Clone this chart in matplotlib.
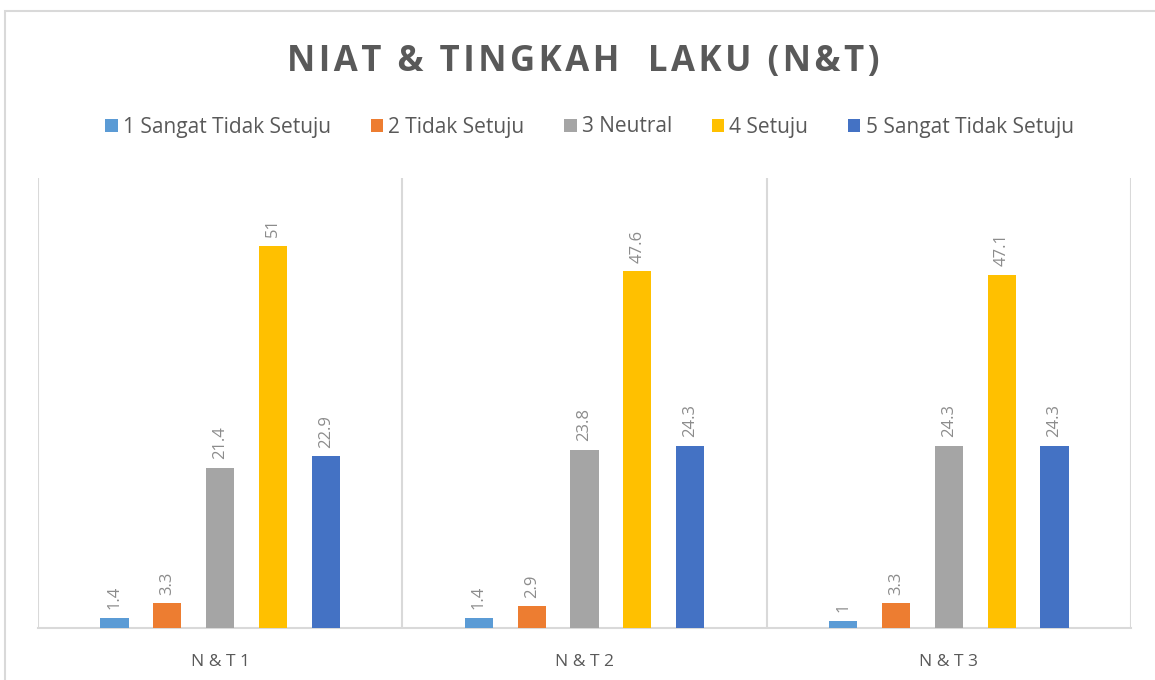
import matplotlib.pyplot as plt
import matplotlib.patches as patches
import numpy as np

# Data
categories = ['N & T 1', 'N & T 2', 'N & T 3']
series_names = ['1 Sangat Tidak Setuju', '2 Tidak Setuju', '3 Neutral',
                '4 Setuju', '5 Sangat Tidak Setuju']
values = [
    [1.4, 1.4, 1.0],
    [3.3, 2.9, 3.3],
    [21.4, 23.8, 24.3],
    [51, 47.6, 47.1],
    [22.9, 24.3, 24.3],
]
labels = [
    ['1.4', '1.4', '1'],
    ['3.3', '2.9', '3.3'],
    ['21.4', '23.8', '24.3'],
    ['51', '47.6', '47.1'],
    ['22.9', '24.3', '24.3'],
]
colors = ['#5B9BD5', '#ED7D31', '#A5A5A5', '#FFC000', '#4472C4']
title = 'NIAT & TINGKAH  LAKU (N&T)'

plt.rcParams['font.family'] = ['Open Sans', 'DejaVu Sans']

fig = plt.figure(figsize=(11.55, 6.8), dpi=100)
ax = fig.add_axes([38 / 1155, 52 / 680, (1131 - 38) / 1155, (628 - 178) / 680])

# outer chart border (partially cropped in the reference)
fig.patches.append(patches.Rectangle((5 / 1155, -0.1), 1.2, 1 - 11 / 680 + 0.1,
                                     transform=fig.transFigure, fill=False,
                                     edgecolor='#d9d9d9', linewidth=1.5))

x = np.arange(len(categories))
step = 0.145
width = 0.077
for i, (name, vals, labs, c) in enumerate(zip(series_names, values, labels, colors)):
    pos = x + (i - 2) * step
    ax.bar(pos, vals, width=width, color=c, label=name, zorder=3)
    for px, v, lab in zip(pos, vals, labs):
        ax.annotate(lab, (px, v), xytext=(0, 6), textcoords='offset points',
                    rotation=90, ha='center', va='bottom', fontsize=12,
                    color='#8c8c8c')

ax.set_xlim(-0.5, 2.5)
ax.set_ylim(0, 60)
for b in [-0.5, 0.5, 1.5, 2.5]:
    ax.axvline(b, color='#d9d9d9', linewidth=1.5, zorder=1)
for s in ['top', 'left', 'right']:
    ax.spines[s].set_visible(False)
ax.spines['bottom'].set_color('#d9d9d9')
ax.spines['bottom'].set_linewidth(1.5)
ax.set_yticks([])
ax.set_xticks(x)
ax.set_xticklabels(categories, fontsize=12.5, color='#595959')
ax.tick_params(axis='x', length=0, pad=19)

# title with a little letter spacing (hair spaces)
fig.text(0.505, 1 - 62 / 680, '\u200a'.join(title),
         ha='center', va='center', fontsize=25, fontweight='bold', color='#595959')

fig.legend(loc='center', bbox_to_anchor=(0.5104, 1 - 127 / 680), ncol=5, frameon=False,
           fontsize=15, handlelength=0.6, handleheight=0.6, handletextpad=0.25,
           columnspacing=1.9, labelcolor='#595959')

fig.savefig('out.png', dpi=100)
